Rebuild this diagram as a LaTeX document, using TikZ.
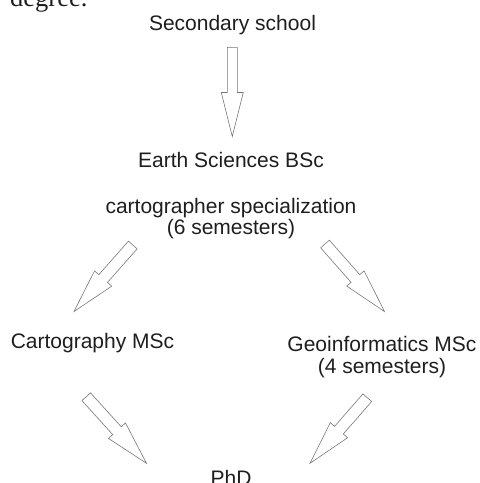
\documentclass[tikz,border=0pt]{standalone}
\usepackage{fontspec}
\setmainfont{Liberation Sans}
\newfontfamily\serifface{Liberation Serif}
\usetikzlibrary{calc}
\definecolor{txt}{RGB}{30,30,30}
\definecolor{arr}{RGB}{120,120,120}
\tikzset{
  lbl/.style={anchor=base, inner sep=0pt, text=txt, font=\fontsize{21}{23}\selectfont, align=center},
  fatarrowline/.style={draw=arr, line width=0.6pt, line join=miter, fill=white},
}
\newcommand\fatarrow[4]{% from, to, half shaft width, half head width
  \coordinate (fh) at ($(#2)!44pt!(#1)$);
  \draw[fatarrowline]
    ($(#1)!#3!90:(#2)$) -- ($(fh)!#3!-90:(#1)$) -- ($(fh)!#4!-90:(#1)$) -- (#2)
    -- ($(fh)!#4!90:(#1)$) -- ($(fh)!#3!90:(#1)$) -- ($(#1)!#3!-90:(#2)$) -- cycle;
}
\begin{document}
\begin{tikzpicture}[x=1pt,y=-1pt]
\useasboundingbox (0,0) rectangle (480,483);
% cropped text from the surrounding page
\node[anchor=base west, inner sep=0pt, text=txt, font=\serifface\fontsize{26.5}{28}\selectfont] (deg) at (10,6) {degree.};
% labels (base anchor = baseline of the last line)
\node[lbl] (sec) at (232.5,30) {Secondary school};
\node[lbl] (bsc) at (231,167) {Earth Sciences BSc};
\node[lbl] (spec) at (231,234.5) {cartographer specialization\\[-2pt](6 semesters)};
\node[lbl] (carto) at (92.5,348) {Cartography MSc};
\node[lbl] (geo) at (382,373) {Geoinformatics MSc\\[-1pt](4 semesters)};
\node[lbl] (phd) at (231,485.5) {PhD};
% arrow end points
\coordinate (a1s) at (232.3,47.3);  \coordinate (a1e) at (232.3,136.5);
\coordinate (a2s) at (132.8,245);   \coordinate (a2e) at (74,311.5);
\coordinate (a3s) at (325,244);     \coordinate (a3e) at (384.5,311.5);
\coordinate (a4s) at (86.2,396.7);  \coordinate (a4e) at (146.5,463.3);
\coordinate (a5s) at (367.3,397.7); \coordinate (a5e) at (310,463.3);
\fatarrow{a1s}{a1e}{5pt}{11pt}
\fatarrow{a2s}{a2e}{5.8pt}{11.5pt}
\fatarrow{a3s}{a3e}{5.8pt}{11.5pt}
\fatarrow{a4s}{a4e}{5.8pt}{11.5pt}
\fatarrow{a5s}{a5e}{5.8pt}{11.5pt}
\end{tikzpicture}
\end{document}
